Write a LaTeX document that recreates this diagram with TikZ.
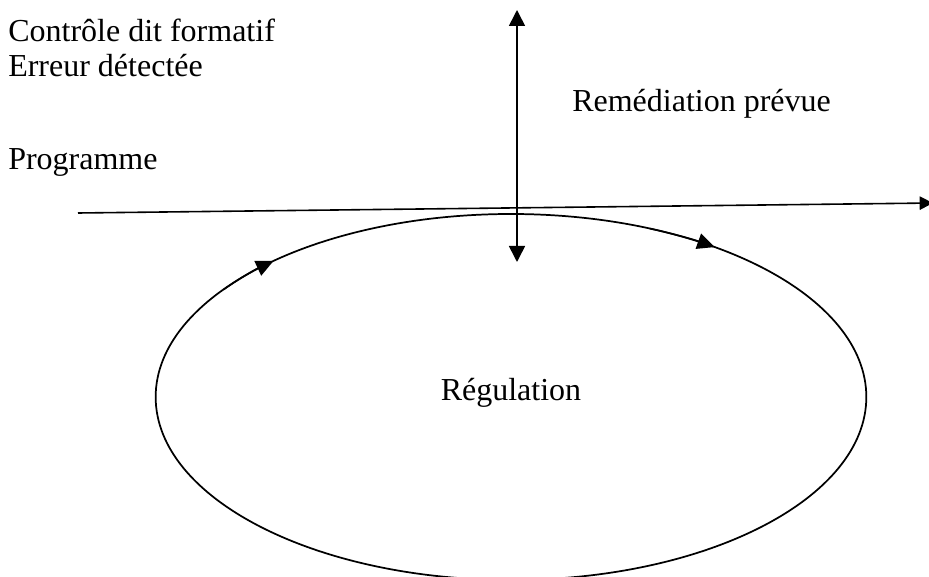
\documentclass[tikz,border=0pt]{standalone}
\usepackage{fontspec}
\setmainfont{Liberation Serif}
\usetikzlibrary{arrows.meta,shapes.geometric}
\begin{document}
\begin{tikzpicture}[x=0.75pt,y=-0.75pt,
  lbl/.style={font=\fontsize{24}{28}\selectfont, anchor=base west, inner sep=0pt},
  conn/.style={line width=1.2pt},
  dbltip/.style={{Triangle[length=12pt,width=12pt]}-{Triangle[length=12pt,width=12pt]}},
  looptip/.style={-{Triangle[length=13pt,width=12pt]}}]
\useasboundingbox (0,0) rectangle (929,577);
% ellipse
\coordinate (c) at (511,397);
\node[draw, ellipse, line width=1.3pt, minimum width=533pt, minimum height=274.5pt, inner sep=0pt] (reg) at (c) {};
\node[lbl, anchor=base] (regtxt) at (511,401) {Régulation};
% arrows on the ellipse
\draw[conn, looptip] (c) ++(216:355 and 183) arc[start angle=216, end angle=228, x radius=355, y radius=183];
\draw[conn, looptip] (c) ++(293:355 and 183) arc[start angle=293, end angle=305, x radius=355, y radius=183];
% horizontal programme line
\coordinate (p0) at (78,213);
\coordinate (p1) at (933,203);
\draw[conn, -{Triangle[length=10pt,width=10pt]}] (p0) -- (p1);
% vertical double arrow
\coordinate (v0) at (517,262);
\coordinate (v1) at (517,10);
\draw[conn, dbltip] (v0) -- (v1);
% labels
\node[lbl] (ctrl) at (8,42) {Contrôle dit formatif};
\node[lbl] (err) at (8,77) {Erreur détectée};
\node[lbl] (rem) at (572,112) {Remédiation prévue};
\node[lbl] (prog) at (8,170) {Programme};
\end{tikzpicture}
\end{document}
